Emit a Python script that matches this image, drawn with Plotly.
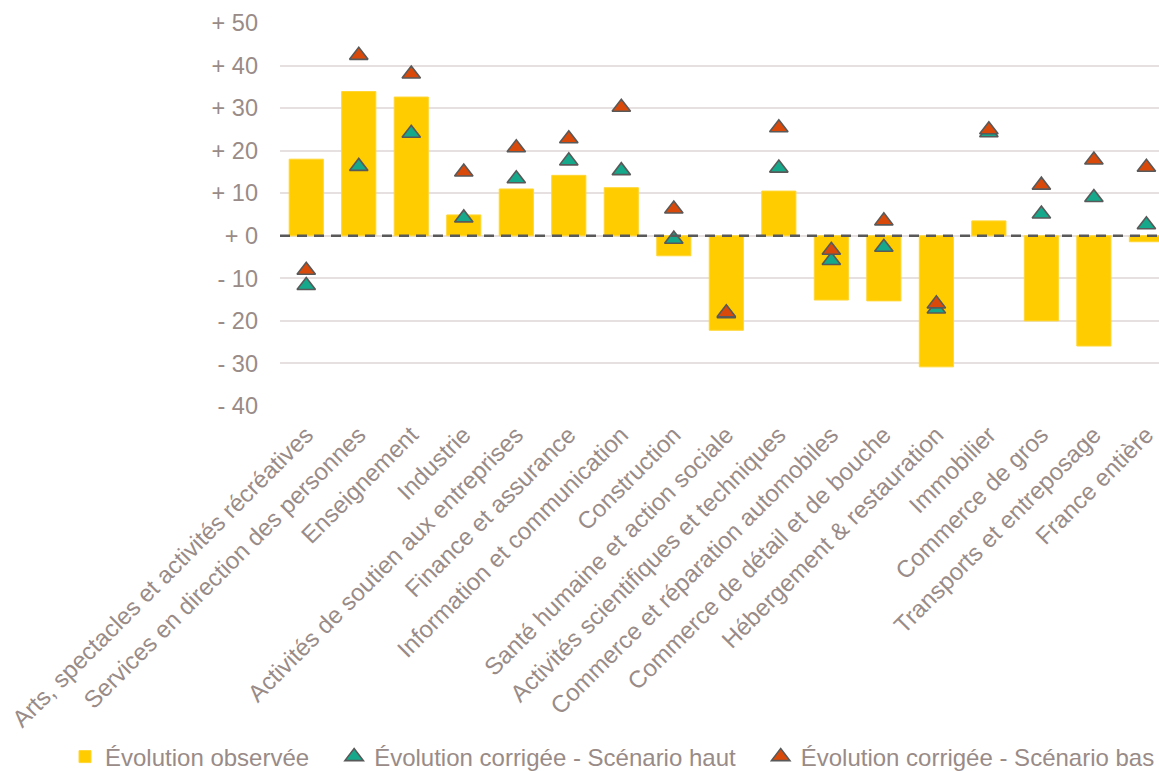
import plotly.graph_objects as go

categories = [
    "Arts, spectacles et activités récréatives",
    "Services en direction des personnes",
    "Enseignement",
    "Industrie",
    "Activités de soutien aux entreprises",
    "Finance et assurance",
    "Information et communication",
    "Construction",
    "Santé humaine et action sociale",
    "Activités scientifiques et techniques",
    "Commerce et réparation automobiles",
    "Commerce de détail et de bouche",
    "Hébergement & restauration",
    "Immobilier",
    "Commerce de gros",
    "Transports et entreposage",
    "France entière",
]
observed = [18.0, 33.9, 32.6, 4.9, 11.0, 14.2, 11.3, -4.7, -22.2, 10.5, -15.1, -15.3, -30.8, 3.5, -20.0, -25.9, -1.4]
scen_haut = [-11.7, 16.3, 24.1, 4.2, 13.4, 17.6, 15.3, -0.8, -18.3, 15.9, -5.8, -2.7, -17.2, 24.2, 5.1, 9.0, 2.6]
scen_bas = [-8.1, 42.4, 38.0, 15.0, 20.7, 22.8, 30.2, 6.3, -18.1, 25.4, -3.4, 3.5, -16.0, 24.9, 11.9, 17.8, 16.1]

series_names = ["Évolution observée", "Évolution corrigée - Scénario haut", "Évolution corrigée - Scénario bas"]

tick_vals = [-40, -30, -20, -10, 0, 10, 20, 30, 40, 50]
tick_text = ["- 40", "- 30", "- 20", "- 10", "+ 0", "+ 10", "+ 20", "+ 30", "+ 40", "+ 50"]

FONT = "Liberation Sans, Arial, sans-serif"
TXT = "#998b87"
OUTL = "#595959"
PAD = "\u00a0\u00a0\u00a0"  # extra spacing between legend entries

W, H = 1159, 771
ML, MT, MB = 280, 23, 365
PW, PH = W - ML, H - MT - MB

fig = go.Figure()
fig.add_trace(go.Bar(
    x=categories, y=observed, name=series_names[0] + PAD,
    marker=dict(color="#FFCC00", line=dict(color="#FFD633", width=1)),
    width=0.65,
))
# reference line at zero (drawn between bars and markers)
fig.add_trace(go.Scatter(
    x=[0, 1], y=[0, 0], xaxis="x2", mode="lines", showlegend=False, hoverinfo="skip",
    line=dict(color=OUTL, width=2.5, dash="10px,7px"),
))
fig.add_trace(go.Scatter(
    x=categories, y=scen_haut, mode="markers", name=series_names[1] + PAD,
    marker=dict(symbol="triangle-up", size=16, color="#16A88A", line=dict(color=OUTL, width=1.6)),
))
fig.add_trace(go.Scatter(
    x=categories, y=scen_bas, mode="markers", name=series_names[2],
    marker=dict(symbol="triangle-up", size=16, color="#D94A0A", line=dict(color=OUTL, width=1.6)),
))

fig.update_layout(
    width=W, height=H,
    margin=dict(l=ML, r=0, t=MT, b=MB, autoexpand=False),
    paper_bgcolor="white", plot_bgcolor="white",
    font=dict(family=FONT, size=23, color=TXT),
    showlegend=True,
    legend=dict(
        orientation="h", xref="paper", yref="paper",
        x=(65 - ML) / PW, y=-(757 - (H - MB)) / PH, xanchor="left", yanchor="middle",
        font=dict(size=24, color=TXT), itemwidth=30, bgcolor="rgba(0,0,0,0)",
    ),
    xaxis=dict(
        range=[-0.5, 16.24], tickangle=-45, showgrid=False, showline=False,
        ticks="", tickfont=dict(size=24, color=TXT), automargin=False,
        ticklabelstandoff=9,
    ),
    xaxis2=dict(range=[0, 1], overlaying="x", visible=False),
    yaxis=dict(
        range=[-40, 50], tickvals=tick_vals, ticktext=tick_text,
        showgrid=True, gridcolor="#E6E0E0", gridwidth=1.5,
        zeroline=False, showline=False, ticks="",
        tickfont=dict(size=23.5, color=TXT), ticklabelstandoff=21, automargin=False,
    ),
)

fig.write_html("out.html", config={"displayModeBar": False},
               post_script="document.body.style.margin='0';")
